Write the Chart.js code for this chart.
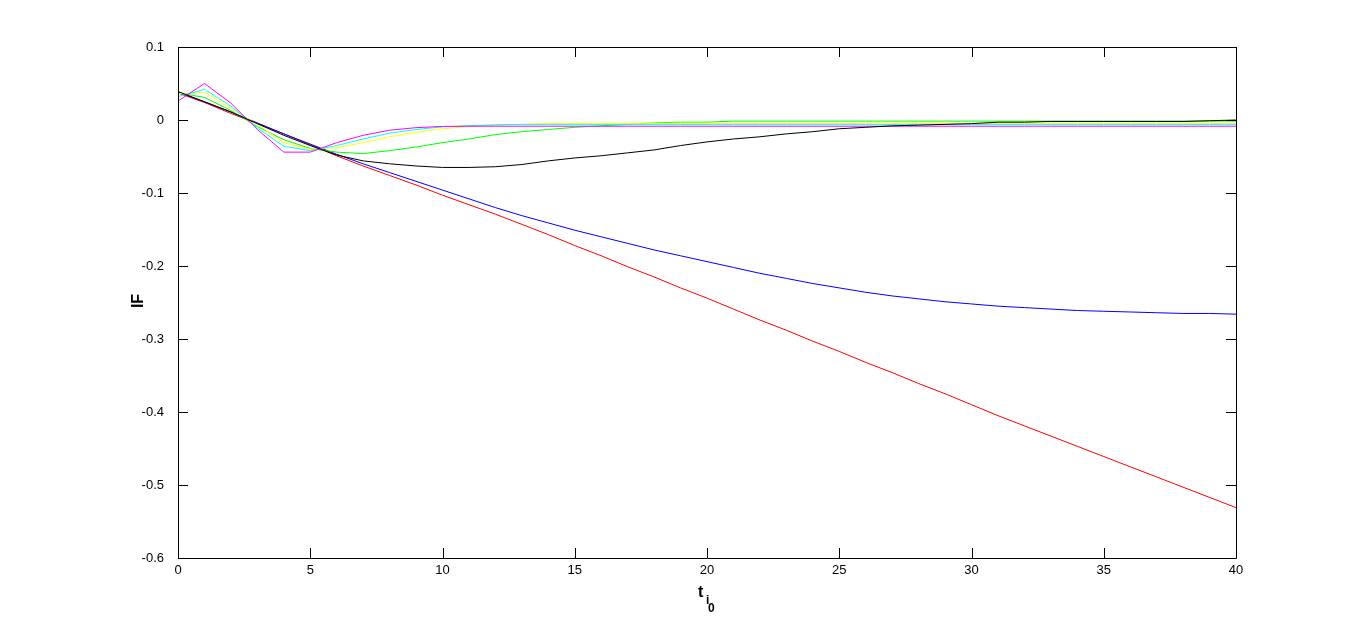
<!DOCTYPE html>
<html><head><meta charset="utf-8">
<script src="https://cdn.jsdelivr.net/npm/chart.js@4.4.1/dist/chart.umd.min.js"></script>
<style>html,body{margin:0;padding:0;background:#fff;overflow:hidden}#wrap{width:1366px;height:628px;position:relative}</style>
</head><body><div id="wrap"><canvas id="c" width="1366" height="628"></canvas></div>
<script>
const tValues = [0,1,2,3,4,5,6,7,8,9,10,11,12,13,14,15,16,17,18,19,20,21,22,23,24,25,26,27,28,29,30,31,32,33,34,35,36,37,38,39,40];
const xTicks = [0,5,10,15,20,25,30,35,40];
const xTickLabels = ['0','5','10','15','20','25','30','35','40'];
const yTicks = [0.1,0,-0.1,-0.2,-0.3,-0.4,-0.5,-0.6];
const yTickLabels = ['0.1','0','-0.1','-0.2','-0.3','-0.4','-0.5','-0.6'];

const seriesRed = [0.037,0.024,0.009,-0.005,-0.019,-0.034,-0.049,-0.063,-0.076,-0.089,-0.103,-0.116,-0.129,-0.143,-0.157,-0.172,-0.186,-0.201,-0.215,-0.230,-0.244,-0.259,-0.274,-0.288,-0.303,-0.317,-0.332,-0.346,-0.361,-0.375,-0.390,-0.405,-0.419,-0.433,-0.447,-0.461,-0.475,-0.489,-0.503,-0.517,-0.531];
const seriesBlue = [0.038,0.025,0.011,-0.004,-0.019,-0.033,-0.047,-0.060,-0.072,-0.084,-0.096,-0.108,-0.120,-0.131,-0.141,-0.151,-0.160,-0.169,-0.178,-0.186,-0.194,-0.202,-0.210,-0.217,-0.224,-0.230,-0.236,-0.241,-0.245,-0.249,-0.252,-0.255,-0.257,-0.259,-0.261,-0.262,-0.263,-0.264,-0.265,-0.265,-0.266];
const seriesBlack = [0.039,0.025,0.011,-0.005,-0.021,-0.035,-0.048,-0.056,-0.060,-0.063,-0.065,-0.065,-0.064,-0.061,-0.056,-0.052,-0.049,-0.045,-0.041,-0.035,-0.030,-0.026,-0.023,-0.019,-0.016,-0.012,-0.010,-0.008,-0.007,-0.006,-0.005,-0.003,-0.003,-0.002,-0.002,-0.002,-0.002,-0.002,-0.002,-0.001,0.000];
const seriesGreen = [0.037,0.031,0.013,-0.009,-0.027,-0.039,-0.044,-0.046,-0.042,-0.037,-0.031,-0.026,-0.020,-0.016,-0.013,-0.010,-0.008,-0.006,-0.004,-0.003,-0.003,-0.0015,-0.0015,-0.0015,-0.0015,-0.0015,-0.0015,-0.0015,-0.0015,-0.0015,-0.0015,-0.0015,-0.0015,-0.0015,-0.0015,-0.0015,-0.0015,-0.0015,-0.0015,-0.0015,-0.0015];
const seriesYellow = [0.036,0.038,0.016,-0.006,-0.031,-0.040,-0.038,-0.031,-0.023,-0.017,-0.012,-0.009,-0.007,-0.006,-0.0045,-0.0045,-0.0045,-0.0045,-0.0045,-0.0045,-0.0045,-0.0045,-0.0045,-0.0045,-0.0045,-0.0045,-0.0045,-0.0045,-0.0045,-0.0045,-0.0045,-0.0045,-0.0045,-0.0045,-0.0045,-0.0045,-0.0045,-0.0045,-0.0045,-0.0045,-0.0045];
const seriesCyan = [0.032,0.042,0.019,-0.011,-0.036,-0.042,-0.035,-0.026,-0.018,-0.013,-0.0095,-0.0078,-0.0065,-0.006,-0.006,-0.006,-0.006,-0.006,-0.006,-0.006,-0.006,-0.006,-0.006,-0.006,-0.006,-0.006,-0.006,-0.006,-0.006,-0.006,-0.006,-0.006,-0.006,-0.006,-0.006,-0.006,-0.006,-0.006,-0.006,-0.006,-0.006];
const seriesMagenta = [0.026,0.050,0.023,-0.013,-0.044,-0.044,-0.031,-0.021,-0.014,-0.0105,-0.0088,-0.0085,-0.0085,-0.0085,-0.0085,-0.0085,-0.0085,-0.0085,-0.0085,-0.0085,-0.0085,-0.0085,-0.0085,-0.0085,-0.0085,-0.0085,-0.0085,-0.0085,-0.0085,-0.0085,-0.0085,-0.0085,-0.0085,-0.0085,-0.0085,-0.0085,-0.0085,-0.0085,-0.0085,-0.0085,-0.0085];

const FONT = "'Liberation Sans', Arial, sans-serif";
const pts = arr => tValues.map((t, i) => ({x: t, y: arr[i]}));
// first dataset is drawn on top
const seriesList = [
  {name: 'black', data: seriesBlack, color: '#000000'},
  {name: 'magenta', data: seriesMagenta, color: '#ff00ff'},
  {name: 'cyan', data: seriesCyan, color: '#00ffff'},
  {name: 'yellow', data: seriesYellow, color: '#ffff00'},
  {name: 'green', data: seriesGreen, color: '#00ff00'},
  {name: 'blue', data: seriesBlue, color: '#0000ff'},
  {name: 'red', data: seriesRed, color: '#ff0000'}
];

const framePlugin = {
  id: 'frame',
  beforeDraw(chart) {
    const ctx = chart.ctx;
    ctx.save();
    ctx.fillStyle = '#ffffff';
    ctx.fillRect(0, 0, chart.width, chart.height);
    ctx.restore();
  },
  afterDraw(chart) {
    const {ctx, chartArea: {left, right, top, bottom}, scales: {x, y}} = chart;
    const L = 10;
    ctx.save();
    ctx.strokeStyle = '#000';
    ctx.lineWidth = 1;
    ctx.beginPath();
    ctx.rect(Math.round(left) + 0.5, Math.round(top) + 0.5, Math.round(right - left), Math.round(bottom - top));
    xTicks.forEach(v => {
      const px = Math.round(x.getPixelForValue(v)) + 0.5;
      ctx.moveTo(px, bottom); ctx.lineTo(px, bottom - L);
      ctx.moveTo(px, top); ctx.lineTo(px, top + L);
    });
    yTicks.forEach(v => {
      const py = Math.round(y.getPixelForValue(v)) + 0.5;
      ctx.moveTo(left, py); ctx.lineTo(left + L, py);
      ctx.moveTo(right, py); ctx.lineTo(right - L, py);
    });
    ctx.stroke();
    // axis labels
    ctx.fillStyle = '#000';
    ctx.textBaseline = 'alphabetic';
    ctx.textAlign = 'left';
    ctx.font = 'bold 16px ' + FONT;
    ctx.fillText('t', 698, 597);
    ctx.font = 'bold 12px ' + FONT;
    ctx.fillText('i', 706, 604);
    ctx.fillText('0', 708, 612);
    ctx.translate(143, 301);
    ctx.rotate(-Math.PI / 2);
    ctx.textAlign = 'center';
    ctx.font = 'bold 16px ' + FONT;
    ctx.fillText('IF', 0, 0);
    ctx.restore();
  }
};

new Chart(document.getElementById('c'), {
  type: 'line',
  data: {
    datasets: seriesList.map(s => ({
      label: s.name,
      data: pts(s.data),
      borderColor: s.color,
      backgroundColor: s.color,
      borderWidth: 1,
      pointRadius: 0,
      tension: 0,
      fill: false
    }))
  },
  options: {
    responsive: false,
    animation: false,
    devicePixelRatio: 1,
    layout: {padding: {left: 0, top: 47, right: 130, bottom: 0}},
    plugins: {legend: {display: false}, tooltip: {enabled: false}},
    scales: {
      x: {
        type: 'linear', min: 0, max: 40,
        grid: {display: false}, border: {display: false},
        afterBuildTicks: s => { s.ticks = xTicks.map(v => ({value: v})); },
        afterFit: s => { s.height = 70; },
        ticks: {
          autoSkip: false, maxRotation: 0, padding: -3, color: '#000',
          font: {family: FONT, size: 13},
          callback: (v) => { const i = xTicks.indexOf(v); return i >= 0 ? xTickLabels[i] : ''; }
        }
      },
      y: {
        type: 'linear', min: -0.6, max: 0.1,
        grid: {display: false}, border: {display: false},
        afterBuildTicks: s => { s.ticks = yTicks.map(v => ({value: v})); },
        afterFit: s => { s.width = 178; },
        ticks: {
          autoSkip: false, padding: 6, color: '#000',
          font: {family: FONT, size: 13},
          callback: (v) => { const i = yTicks.findIndex(t => Math.abs(t - v) < 1e-9); return i >= 0 ? yTickLabels[i] : ''; }
        }
      }
    }
  },
  plugins: [framePlugin]
});
</script>
</body></html>
